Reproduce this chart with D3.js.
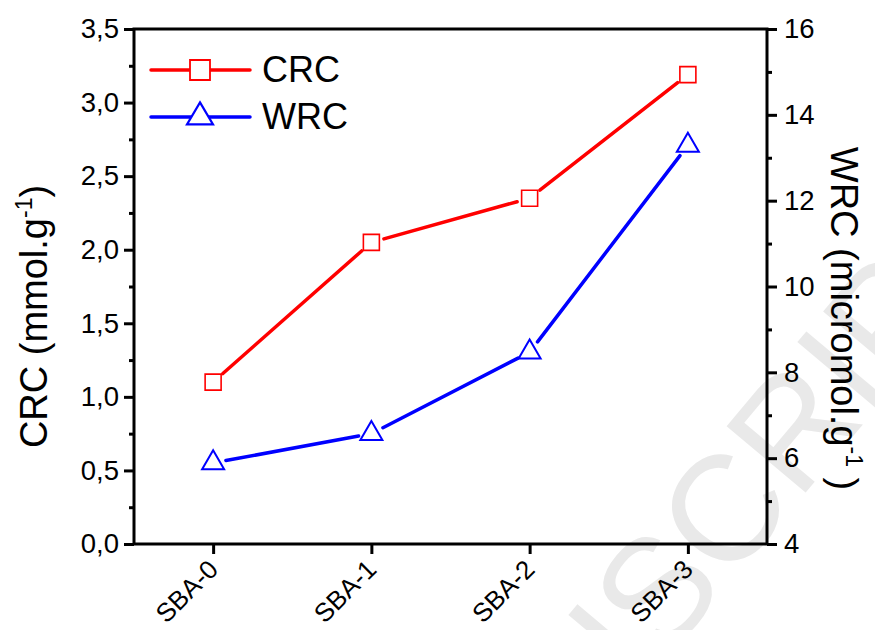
<!DOCTYPE html>
<html>
<head>
<meta charset="utf-8">
<script src="https://cdn.jsdelivr.net/npm/d3@7"></script>
<style>
  html, body { margin: 0; padding: 0; background: #fff; }
  svg { display: block; }
  text { font-family: "Liberation Sans", Arial, sans-serif; }
</style>
</head>
<body>
<svg id="chart" width="875" height="630"></svg>
<script>
// ---- data ----
const categories = ["SBA-0", "SBA-1", "SBA-2", "SBA-3"];
const crcValues = [1.10, 2.05, 2.35, 3.19];
const wrcValues = [5.89, 6.57, 8.47, 13.29];
const leftMajorTicks = [0, 0.5, 1.0, 1.5, 2.0, 2.5, 3.0, 3.5];
const leftMinorTicks = [0.25, 0.75, 1.25, 1.75, 2.25, 2.75, 3.25];
const rightMajorTicks = [4, 6, 8, 10, 12, 14, 16];
const rightMinorTicks = [5, 7, 9, 11, 13, 15];
const seriesNames = ["CRC", "WRC"];
const leftTitle = "CRC (mmol.g";
const rightTitle = "WRC (micromol.g";
const watermark = "MANUSCRIPT";

// ---- layout ----
const m = { left: 134, right: 767, top: 29, bottom: 544 };
const svg = d3.select("#chart");
const sans = "'Liberation Sans', Arial, sans-serif";

// watermark (behind everything)
svg.append("text")
  .attr("transform", "translate(380,1000) rotate(-50)")
  .attr("font-family", "'Liberation Serif', 'Times New Roman', serif")
  .attr("font-size", 150)
  .attr("fill", "#e9e9e9")
  .text(watermark);

const x = d3.scalePoint().domain(categories).range([m.left, m.right]).padding(0.5);
const yL = d3.scaleLinear().domain([0, 3.5]).range([m.bottom, m.top]);
const yR = d3.scaleLinear().domain([4, 16]).range([m.bottom, m.top]);

const commaFmt = d => d3.format(".1f")(d).replace(".", ",");

// left axis
const gL = svg.append("g").attr("transform", `translate(${m.left},0)`);
gL.call(d3.axisLeft(yL).tickValues(leftMajorTicks).tickSize(10).tickPadding(5).tickFormat(commaFmt));
gL.selectAll(".tick text").attr("font-size", 27.5).attr("font-family", sans).attr("fill", "#000");
const gLm = svg.append("g").attr("transform", `translate(${m.left},0)`);
gLm.call(d3.axisLeft(yL).tickValues(leftMinorTicks).tickSize(5).tickFormat(""));

// right axis
const gR = svg.append("g").attr("transform", `translate(${m.right},0)`);
gR.call(d3.axisRight(yR).tickValues(rightMajorTicks).tickSize(10).tickPadding(7).tickFormat(d3.format("d")));
gR.selectAll(".tick text").attr("font-size", 27.5).attr("font-family", sans).attr("fill", "#000");
const gRm = svg.append("g").attr("transform", `translate(${m.right},0)`);
gRm.call(d3.axisRight(yR).tickValues(rightMinorTicks).tickSize(5).tickFormat(""));

// bottom axis
const gB = svg.append("g").attr("transform", `translate(0,${m.bottom})`);
gB.call(d3.axisBottom(x).tickSize(10).tickSizeOuter(0));
gB.selectAll(".tick text")
  .attr("font-size", 26)
  .attr("font-family", sans)
  .attr("fill", "#000")
  .attr("text-anchor", "end")
  .attr("dy", null)
  .attr("y", null)
  .attr("transform", "translate(6,27) rotate(-45)");

[gL, gLm, gR, gRm, gB].forEach(g => {
  g.select(".domain").remove();
  g.selectAll(".tick line").attr("stroke", "#000").attr("stroke-width", 3);
});

// frame
svg.append("rect")
  .attr("x", m.left).attr("y", m.top)
  .attr("width", m.right - m.left).attr("height", m.bottom - m.top)
  .attr("fill", "none").attr("stroke", "#000").attr("stroke-width", 3);

// axis titles
const lt = svg.append("text")
  .attr("transform", `translate(47,${(m.top + m.bottom) / 2 + 30}) rotate(-90)`)
  .attr("text-anchor", "middle")
  .attr("font-size", 38)
  .attr("fill", "#000");
lt.append("tspan").text(leftTitle);
lt.append("tspan").attr("font-size", 23).attr("dy", -15).text("-1");
lt.append("tspan").attr("dy", 15).text(")");

const rt = svg.append("text")
  .attr("transform", `translate(831,${(m.top + m.bottom) / 2 + 32}) rotate(90)`)
  .attr("text-anchor", "middle")
  .attr("font-size", 38)
  .attr("fill", "#000");
rt.append("tspan").text(rightTitle);
rt.append("tspan").attr("font-size", 23).attr("dy", -15).text("-1");
rt.append("tspan").attr("dy", 15).text(" )");

// series
const red = "#ff0000", blue = "#0000ff";
const gap = 13;
function drawSegments(pts, color) {
  const segs = d3.pairs(pts).map(([a, b]) => {
    const dx = b[0] - a[0], dy = b[1] - a[1];
    const L = Math.hypot(dx, dy);
    const ux = dx / L, uy = dy / L;
    return [[a[0] + ux * gap, a[1] + uy * gap], [b[0] - ux * gap, b[1] - uy * gap]];
  });
  svg.append("g").selectAll("path").data(segs).join("path")
    .attr("d", d => d3.line()(d))
    .attr("stroke", color).attr("stroke-width", 3.5).attr("fill", "none")
    .attr("stroke-linecap", "round");
}
const crcPts = categories.map((c, i) => [x(c), yL(crcValues[i])]);
const wrcPts = categories.map((c, i) => [x(c), yR(wrcValues[i])]);
drawSegments(crcPts, red);
drawSegments(wrcPts, blue);

function square(s) { return `M${-s/2},${-s/2}H${s/2}V${s/2}H${-s/2}Z`; }
function triangle(w, h) { return `M0,${-h*2/3}L${w/2},${h/3}L${-w/2},${h/3}Z`; }

svg.append("g").selectAll("path").data(crcPts).join("path")
  .attr("transform", d => `translate(${d[0]},${d[1]})`)
  .attr("d", square(16))
  .attr("fill", "none").attr("stroke", red).attr("stroke-width", 1.6);
svg.append("g").selectAll("path").data(wrcPts).join("path")
  .attr("transform", d => `translate(${d[0]},${d[1]})`)
  .attr("d", triangle(22, 19))
  .attr("fill", "none").attr("stroke", blue).attr("stroke-width", 2);

// legend
const leg = svg.append("g");
const legRows = [
  { name: seriesNames[0], color: red, y: 70, marker: square(20), sw: 1.8 },
  { name: seriesNames[1], color: blue, y: 117, marker: triangle(26, 22), sw: 2.2 }
];
legRows.forEach(r => {
  leg.append("line").attr("x1", 151).attr("x2", 250).attr("y1", r.y).attr("y2", r.y)
    .attr("stroke", r.color).attr("stroke-width", 3.5).attr("stroke-linecap", "round");
  leg.append("path").attr("d", r.marker).attr("transform", `translate(200,${r.y})`)
    .attr("fill", "#fff").attr("stroke", r.color).attr("stroke-width", r.sw);
  leg.append("text").attr("x", 262).attr("y", r.y + 12).attr("font-size", 36).attr("fill", "#000").text(r.name);
});
</script>
</body>
</html>
